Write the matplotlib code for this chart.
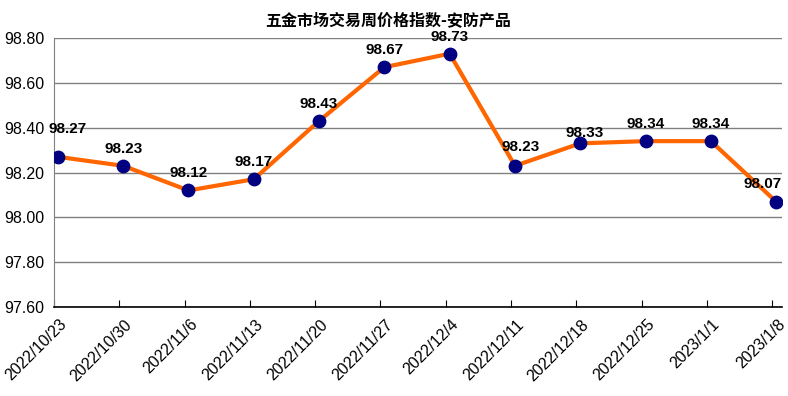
import matplotlib.pyplot as plt
import matplotlib.transforms as mtransforms

plt.rcParams['font.family'] = ['Liberation Sans', 'Noto Sans CJK SC', 'DejaVu Sans']

title = "五金市场交易周价格指数-安防产品"
dates = ["2022/10/23", "2022/10/30", "2022/11/6", "2022/11/13", "2022/11/20", "2022/11/27",
         "2022/12/4", "2022/12/11", "2022/12/18", "2022/12/25", "2023/1/1", "2023/1/8"]
values = [98.27, 98.23, 98.12, 98.17, 98.43, 98.67, 98.73, 98.23, 98.33, 98.34, 98.34, 98.07]
y_ticks = [97.60, 97.80, 98.00, 98.20, 98.40, 98.60, 98.80]

fig = plt.figure(figsize=(7.88, 3.96), dpi=100)
ax = fig.add_axes([0.0685, 0.2247, 0.9239, 0.6793])

x = list(range(len(values)))
ax.plot(x, values, color='#FF6600', lw=3, zorder=3)
ax.scatter(x, values, s=80, color='#000080', zorder=4)

# смещения подписей (в пикселях)
offsets = {0: (10, 28), 7: (6, 19), 8: (4, 10), 11: (-14, 18)}
for i, v in enumerate(values):
    dx, dy = offsets.get(i, (0, 17))
    ax.annotate(f"{v:.2f}", (i, v), xytext=(dx, dy), textcoords='offset pixels',
                ha='center', va='center', fontsize=11, fontweight='bold', color='black',
                zorder=5)

ax.set_xlim(-0.06, len(values) - 1 + 0.09)
ax.set_ylim(97.60, 98.80)
ax.set_yticks(y_ticks)
ax.set_yticklabels([f"{t:.2f}" for t in y_ticks], fontsize=11.5)
ax.set_xticks([i - 0.06 for i in x])
ax.set_xticklabels(dates, rotation=45, ha='right', rotation_mode='anchor', fontsize=11.5)
ax.tick_params(axis='y', length=0, pad=7)
ax.tick_params(axis='x', length=5, direction='in', pad=7, color='black')

shift = mtransforms.ScaledTranslation(5 / 100, 0, fig.dpi_scale_trans)
for lbl in ax.get_xticklabels():
    lbl.set_transform(lbl.get_transform() + shift)

ax.grid(axis='y', color='#808080', lw=1)
ax.set_axisbelow(True)
for s in ['top', 'right']:
    ax.spines[s].set_visible(False)
ax.spines['left'].set_color('#808080')
ax.spines['bottom'].set_color('black')
ax.spines['bottom'].set_linewidth(1.2)

fig.text(0.492, 0.95, title, ha='center', va='center', fontsize=11.5, fontweight='bold',
         family=['Noto Sans CJK SC', 'DejaVu Sans'])

fig.savefig('out.png')
